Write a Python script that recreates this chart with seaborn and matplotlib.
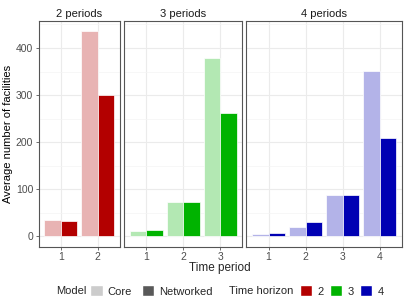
import numpy as np
import pandas as pd
import seaborn as sns
import matplotlib.pyplot as plt
from matplotlib.patches import Patch

# values
horizons = [2, 3, 4]
core_2 = [36, 436]
networked_2 = [33, 301]
core_3 = [12, 74, 379]
networked_3 = [14, 74, 262]
core_4 = [5, 21, 87, 352]
networked_4 = [8, 31, 89, 208]

dark_colors = {2: "#B30000", 3: "#00B300", 4: "#0000B3"}
light_colors = {2: "#E8B3B3", 3: "#B3E8B3", 4: "#B3B3E8"}

rows = []
for h, core, net in [(2, core_2, networked_2), (3, core_3, networked_3), (4, core_4, networked_4)]:
    for i in range(h):
        rows.append({"horizon": h, "period": str(i + 1), "model": "Core", "value": core[i]})
        rows.append({"horizon": h, "period": str(i + 1), "model": "Networked", "value": net[i]})
df = pd.DataFrame(rows)

sns.set_theme(style="white")
plt.rcParams["font.family"] = ["Liberation Sans", "DejaVu Sans"]

fig = plt.figure(figsize=(4.07, 3.05), dpi=100)
gs = fig.add_gridspec(1, 3, width_ratios=[h + 0.2 for h in horizons],
                      left=0.095, right=0.987, top=0.932, bottom=0.191, wspace=0.034)

for j, h in enumerate(horizons):
    ax = fig.add_subplot(gs[0, j])
    sub = df[df["horizon"] == h]
    sns.barplot(data=sub, x="period", y="value", hue="model", ax=ax,
                palette={"Core": light_colors[h], "Networked": dark_colors[h]},
                width=0.9, saturation=1, edgecolor="white", linewidth=0.5, legend=False,
                errorbar=None, zorder=3)
    ax.set_xlim(-0.6, h - 0.4)
    ax.set_ylim(-21.8, 457.8)
    ax.set_yticks([0, 100, 200, 300, 400])
    ax.set_yticks([50, 150, 250, 350, 450], minor=True)
    ax.grid(True, which="major", color="#EBEBEB", linewidth=0.8, zorder=0)
    ax.grid(True, which="minor", axis="y", color="#F4F4F4", linewidth=0.5, zorder=0)
    ax.set_axisbelow(True)
    for s in ax.spines.values():
        s.set_color("#555555")
        s.set_linewidth(0.8)
    ax.tick_params(axis="both", which="major", length=2.5, width=0.6, color="#555555",
                   labelsize=7.5, labelcolor="#4D4D4D", pad=1.5, bottom=True, left=True)
    ax.tick_params(axis="y", which="minor", length=0)
    if j > 0:
        ax.tick_params(axis="y", left=False, labelleft=False)
    ax.set_xlabel("")
    ax.set_ylabel("")
    ax.set_title(f"{h} periods", fontsize=8, color="#1A1A1A", pad=3)
    if j == 0:
        ax.set_ylabel("Average number of facilities", fontsize=8, color="black")
        ax.yaxis.set_label_coords(-0.31, 0.5)

fig.text(0.54, 0.12, "Time period", ha="center", va="center", fontsize=8.5)

# legends at the bottom
fig.text(0.139, 0.046, "Model", ha="left", va="center", fontsize=8)
model_handles = [Patch(facecolor="#CCCCCC", label="Core"), Patch(facecolor="#595959", label="Networked")]
fig.legend(handles=model_handles, loc="center left", bbox_to_anchor=(0.222, 0.046), ncol=2,
           frameon=False, fontsize=8, handlelength=1.1, handleheight=1.1,
           handletextpad=0.45, columnspacing=0.9, borderaxespad=0, borderpad=0)
fig.text(0.562, 0.046, "Time horizon", ha="left", va="center", fontsize=8)
hz_handles = [Patch(facecolor=dark_colors[h], label=str(h)) for h in horizons]
fig.legend(handles=hz_handles, loc="center left", bbox_to_anchor=(0.737, 0.046), ncol=3,
           frameon=False, fontsize=8, handlelength=1.1, handleheight=1.1,
           handletextpad=0.45, columnspacing=0.6, borderaxespad=0, borderpad=0)

fig.savefig("out.png", dpi=100)
